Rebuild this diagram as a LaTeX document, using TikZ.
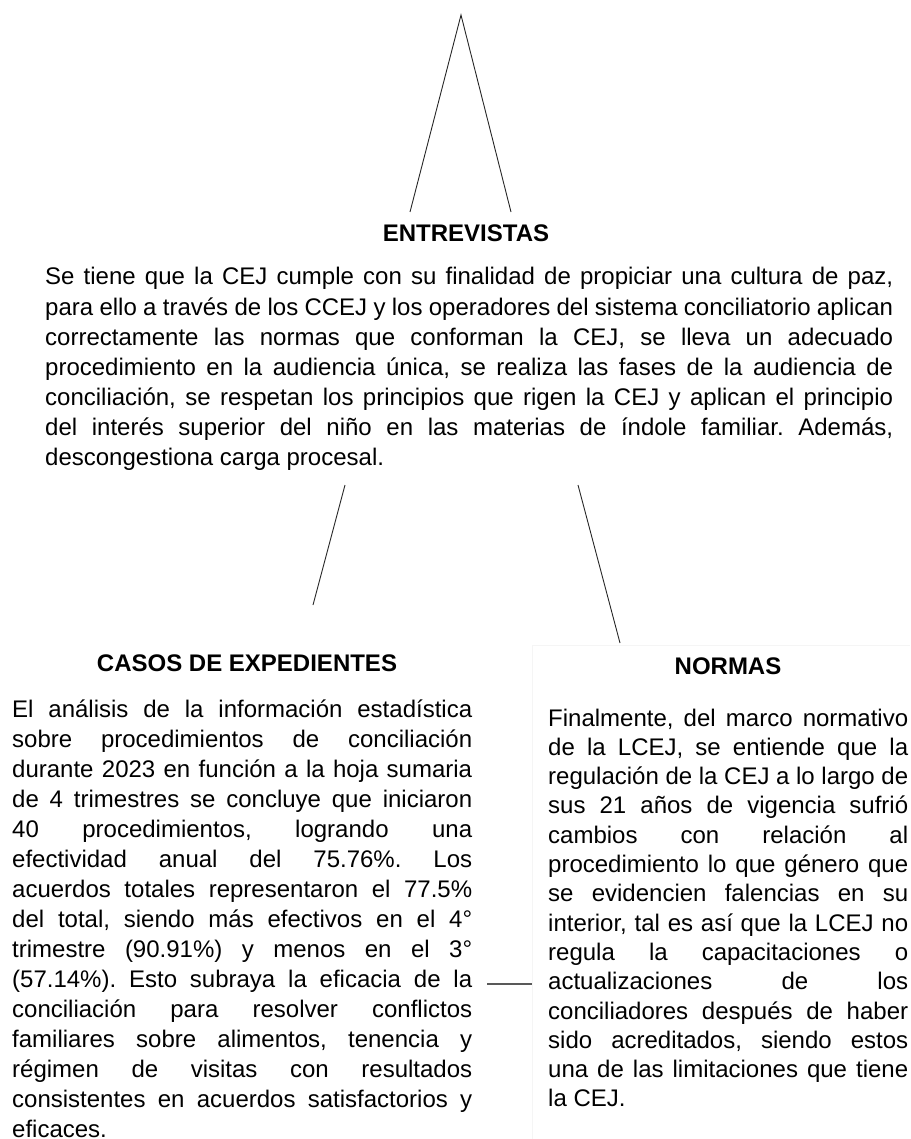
\documentclass[tikz,border=0pt]{standalone}
\usepackage{fontspec}
\setmainfont{Liberation Sans}
\usetikzlibrary{positioning,calc}

\begin{document}
\frenchspacing
\begin{tikzpicture}[
    x=1pt, y=-1pt,
    heading/.style={font=\fontsize{24}{28}\selectfont\bfseries, inner sep=0pt, anchor=base},
    body/.style={font=\fontsize{24}{30}\selectfont, align=justify, inner sep=0pt, anchor=base west},
    link/.style={draw=black!85, line width=0.9pt},
    frame/.style={draw=black!4, line width=0.6pt}
]
\useasboundingbox (0,0) rectangle (910,1139);

% Faint text box of the right column
\draw[frame] (532,1139) -- (532,645) -- (910,645);

% Titles
\node[heading] (entrevistas) at (466,242) {ENTREVISTAS};
\node[heading] (casos) at (247,671) {CASOS DE EXPEDIENTES};
\node[heading] (normas) at (728,674) {NORMAS};

% Texts
\node[body, text width=848] (entrevistasText) at (45,285) {Se tiene que la CEJ cumple con su finalidad de propiciar una cultura de paz, \linebreak
para ello a través de los CCEJ y los operadores del sistema conciliatorio aplican \linebreak
correctamente las normas que conforman la CEJ, se lleva un adecuado \linebreak
procedimiento en la audiencia única, se realiza las fases de la audiencia de \linebreak
conciliación, se respetan los principios que rigen la CEJ y aplican el principio \linebreak
del interés superior del niño en las materias de índole familiar. Además, \linebreak
descongestiona carga procesal.};

\node[body, text width=460] (casosText) at (12,717) {El análisis de la información estadística \linebreak
sobre procedimientos de conciliación \linebreak
durante 2023 en función a la hoja sumaria \linebreak
de 4 trimestres se concluye que iniciaron \linebreak
40 procedimientos, logrando una \linebreak
efectividad anual del 75.76\%. Los \linebreak
acuerdos totales representaron el 77.5\% \linebreak
del total, siendo más efectivos en el 4° \linebreak
trimestre (90.91\%) y menos en el 3° \linebreak
(57.14\%). Esto subraya la eficacia de la \linebreak
conciliación para resolver conflictos \linebreak
familiares sobre alimentos, tenencia y \linebreak
régimen de visitas con resultados \linebreak
consistentes en acuerdos satisfactorios y \linebreak
eficaces.};

\node[body, text width=360, font=\fontsize{24}{29.3}\selectfont] (normasText) at (548,726) {Finalmente, del marco normativo \linebreak
de la LCEJ, se entiende que la \linebreak
regulación de la CEJ a lo largo de \linebreak
sus 21 años de vigencia sufrió \linebreak
cambios con relación al \linebreak
procedimiento lo que género que \linebreak
se evidencien falencias en su \linebreak
interior, tal es así que la LCEJ no \linebreak
regula la capacitaciones o \linebreak
actualizaciones de los \linebreak
conciliadores después de haber \linebreak
sido acreditados, siendo estos \linebreak
una de las limitaciones que tiene \linebreak
la CEJ.};

% Connectors
\coordinate (apex) at (461,15);
\coordinate (legL) at (410,212);
\coordinate (legR) at (511,212);
\coordinate (toCasos) at (313,605);
\coordinate (fromCasos) at (345,485);
\coordinate (toNormas) at (620,643);
\coordinate (fromNormas) at (578,485);
\coordinate (tieL) at (487,984);
\coordinate (tieR) at (532,984);

\draw[link] (legL) -- (apex) -- (legR);
\draw[link] (fromCasos) -- (toCasos);
\draw[link] (fromNormas) -- (toNormas);
\draw[link, draw=black!65, line width=1.2pt] (tieL) -- (tieR);

\end{tikzpicture}
\end{document}
